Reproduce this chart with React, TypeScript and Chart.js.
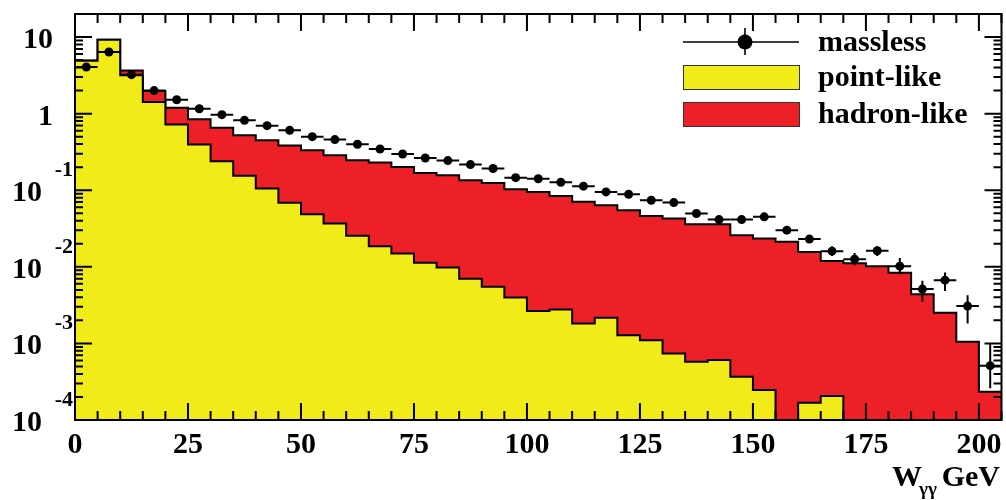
import React, { useEffect, useRef } from "react";
import { Chart, registerables } from "chart.js";

Chart.register(...registerables);

// W_gg spectrum in 5 GeV bins, from 0 to 205 GeV
const binEdges = [
  0, 5, 10, 15, 20, 25, 30, 35, 40, 45, 50, 55, 60, 65, 70, 75, 80, 85, 90, 95,
  100, 105, 110, 115, 120, 125, 130, 135, 140, 145, 150, 155, 160, 165, 170,
  175, 180, 185, 190, 195, 200, 205,
];

// point-like component (yellow), per bin
const pointLike = [
  4.9, 9.2, 3.16, 1.42, 0.72, 0.395, 0.239, 0.154, 0.105, 0.0684, 0.0487,
  0.0367, 0.0254, 0.0186, 0.0149, 0.0113, 0.0098, 0.00697, 0.00548, 0.00398,
  0.00264, 0.00278, 0.00182, 0.00216, 0.00128, 0.0011, 0.00074, 0.000577,
  0.000607, 0.000367, 0.000246, 0, 0.000168, 0.000206, 0, 0, 0, 0, 0, 0, 0,
];

// hadron-like component (red), stacked on top of the point-like one
const hadronLike = [
  0.05, 0.05, 0.51, 0.55, 0.47, 0.448, 0.417, 0.367, 0.344, 0.315, 0.283,
  0.249, 0.221, 0.211, 0.186, 0.157, 0.147, 0.128, 0.1185, 0.099, 0.0924,
  0.0815, 0.0687, 0.0615, 0.0535, 0.0451, 0.042, 0.0354, 0.0354, 0.0255,
  0.0232, 0.0212, 0.0155, 0.0117, 0.0111, 0.0102, 0.00834, 0.0044, 0.00251,
  0.00105, 0.000234,
];

// massless prediction with its uncertainties
const massless = [
  4.06, 6.37, 3.23, 2.0, 1.52, 1.16, 0.97, 0.818, 0.697, 0.605, 0.501, 0.458,
  0.398, 0.346, 0.297, 0.264, 0.244, 0.216, 0.192, 0.146, 0.141, 0.127, 0.113,
  0.095, 0.0887, 0.074, 0.069, 0.0497, 0.0414, 0.0414, 0.0449, 0.0301, 0.023,
  0.016, 0.0126, 0.0162, 0.0102, 0.00512, 0.0067, 0.00307, 0.000512,
];
const masslessErrDown = [
  0, 0, 0, 0, 0, 0, 0, 0, 0, 0, 0, 0, 0, 0, 0, 0, 0, 0, 0, 0, 0, 0, 0, 0, 0,
  0, 0, 0, 0, 0, 0, 0.0018, 0.002, 0.0022, 0.0021, 0.0024, 0.0022, 0.00163,
  0.00188, 0.00125, 0.000253,
];
const masslessErrUp = [
  0, 0, 0, 0, 0, 0, 0, 0, 0, 0, 0, 0, 0, 0, 0, 0, 0, 0, 0, 0, 0, 0, 0, 0, 0,
  0, 0, 0, 0, 0, 0, 0.0019, 0.0022, 0.0026, 0.0025, 0.0024, 0.0028, 0.00144,
  0.00173, 0.0012, 0.00049,
];

const xMajorTicks = [0, 25, 50, 75, 100, 125, 150, 175, 200];
const xMinorStep = 5;
const yDecades = [-4, -3, -2, -1, 0, 1];

const X_MIN = 0;
const X_MAX = 205;
const Y_MIN = 1e-4;
const Y_MAX = 20;

const YELLOW = "rgb(241,235,26)";
const RED = "rgb(237,31,39)";
const FONT = '"Liberation Serif", "Times New Roman", serif';

const LABEL_MASSLESS = "massless";
const LABEL_POINT = "point-like";
const LABEL_HADRON = "hadron-like";

// Histogram outline as step points on the bin edges; empty bins sit on the axis floor
function histogramPoints(values: number[]) {
  const pts = values.map((v, i) => ({ x: binEdges[i], y: Math.max(v, Y_MIN) }));
  pts.push({
    x: binEdges[values.length],
    y: Math.max(values[values.length - 1], Y_MIN),
  });
  return pts;
}

const stackedTotal = pointLike.map((p, i) => p + hadronLike[i]);

const errorBarPlugin = {
  id: "errorBars",
  afterDatasetsDraw(chart: any) {
    const { ctx, chartArea, scales } = chart;
    const x = scales.x;
    const y = scales.y;
    ctx.save();
    ctx.beginPath();
    ctx.rect(
      chartArea.left,
      chartArea.top,
      chartArea.right - chartArea.left,
      chartArea.bottom - chartArea.top
    );
    ctx.clip();
    ctx.strokeStyle = "#000";
    ctx.lineWidth = 2;
    massless.forEach((v, i) => {
      const px0 = x.getPixelForValue(binEdges[i]);
      const px1 = x.getPixelForValue(binEdges[i + 1]);
      const cx = (px0 + px1) / 2;
      const cy = y.getPixelForValue(v);
      ctx.beginPath();
      ctx.moveTo(px0, cy);
      ctx.lineTo(px1, cy);
      if (masslessErrDown[i] > 0 || masslessErrUp[i] > 0) {
        const lo = Math.max(v - masslessErrDown[i], Y_MIN);
        const hi = v + masslessErrUp[i];
        ctx.moveTo(cx, y.getPixelForValue(lo));
        ctx.lineTo(cx, y.getPixelForValue(hi));
      }
      ctx.stroke();
    });
    ctx.restore();
  },
};

const framePlugin = {
  id: "rootFrame",
  afterDraw(chart: any) {
    const { ctx, chartArea, scales } = chart;
    const x = scales.x;
    const y = scales.y;
    const { left, right, top, bottom } = chartArea;
    ctx.save();
    ctx.strokeStyle = "#000";
    ctx.lineWidth = 2;
    ctx.strokeRect(left, top, right - left, bottom - top);

    // x ticks, bottom and top, pointing inward
    ctx.beginPath();
    for (let v = X_MIN; v <= X_MAX; v += xMinorStep) {
      const px = x.getPixelForValue(v);
      const len = xMajorTicks.includes(v) ? 17 : 9;
      ctx.moveTo(px, bottom);
      ctx.lineTo(px, bottom - len);
      ctx.moveTo(px, top);
      ctx.lineTo(px, top + len);
    }
    // y ticks, left and right
    for (const d of yDecades) {
      for (let m = 1; m <= 9; m++) {
        const val = m * Math.pow(10, d);
        if (val > Y_MAX * 1.0001) break;
        const py = y.getPixelForValue(val);
        const len = m === 1 ? 17 : 8;
        ctx.moveTo(left, py);
        ctx.lineTo(left + len, py);
        ctx.moveTo(right, py);
        ctx.lineTo(right - len, py);
      }
    }
    ctx.stroke();

    ctx.fillStyle = "#000";
    // x tick labels
    ctx.font = `bold 30px ${FONT}`;
    ctx.textAlign = "center";
    ctx.textBaseline = "alphabetic";
    for (const v of xMajorTicks) {
      ctx.fillText(String(v), x.getPixelForValue(v), 453);
    }

    // y tick labels: 10, 1, and 10 with a raised exponent
    for (const d of yDecades) {
      const py = y.getPixelForValue(Math.pow(10, d));
      if (d === 1 || d === 0) {
        ctx.font = `bold 30px ${FONT}`;
        ctx.textAlign = "right";
        ctx.fillText(d === 1 ? "10" : "1", 53, py + 11);
      } else {
        ctx.font = `bold 30px ${FONT}`;
        ctx.textAlign = "right";
        ctx.fillText("10", 42, py + 11);
        ctx.font = `bold 22px ${FONT}`;
        ctx.fillText(String(d), 73, py - 14);
      }
    }

    // axis title W_gg GeV
    ctx.textAlign = "left";
    ctx.font = `bold 30px ${FONT}`;
    const wx = 892;
    ctx.fillText("W", wx, 486);
    const wWidth = ctx.measureText("W").width;
    ctx.font = `bold 19px ${FONT}`;
    ctx.fillText("\u03b3\u03b3", wx + wWidth - 3, 495);
    ctx.font = `bold 30px ${FONT}`;
    ctx.textAlign = "right";
    ctx.fillText("GeV", 1000, 486);
    ctx.restore();
  },
};

const legendPlugin = {
  id: "rootLegend",
  afterDraw(chart: any) {
    const { ctx } = chart;
    const x0 = 683;
    const w = 116;
    const textX = 818;
    ctx.save();
    // massless: line + marker + vertical bar
    ctx.strokeStyle = "#000";
    ctx.lineWidth = 1.6;
    ctx.beginPath();
    ctx.moveTo(x0, 42);
    ctx.lineTo(x0 + w, 42);
    ctx.moveTo(x0 + w / 2 + 4, 28);
    ctx.lineTo(x0 + w / 2 + 4, 55);
    ctx.stroke();
    ctx.fillStyle = "#000";
    ctx.beginPath();
    ctx.arc(x0 + w / 2 + 4, 42, 7.5, 0, Math.PI * 2);
    ctx.fill();

    // filled boxes
    ctx.lineWidth = 1;
    ctx.strokeStyle = "#333";
    ctx.fillStyle = YELLOW;
    ctx.fillRect(x0, 65, w, 24);
    ctx.strokeRect(x0 + 0.5, 65.5, w, 24);
    ctx.fillStyle = RED;
    ctx.fillRect(x0, 102, w, 24);
    ctx.strokeRect(x0 + 0.5, 102.5, w, 24);

    ctx.fillStyle = "#000";
    ctx.font = `bold 30px ${FONT}`;
    ctx.textAlign = "left";
    ctx.textBaseline = "alphabetic";
    ctx.fillText(LABEL_MASSLESS, textX, 51);
    ctx.fillText(LABEL_POINT, textX, 86);
    ctx.fillText(LABEL_HADRON, textX, 123);
    ctx.restore();
  },
};

export default function App() {
  const canvasRef = useRef<HTMLCanvasElement | null>(null);

  useEffect(() => {
    const canvas = canvasRef.current;
    if (!canvas) return;
    const centers = massless.map((v, i) => ({
      x: (binEdges[i] + binEdges[i + 1]) / 2,
      y: v,
    }));
    const chart = new Chart(canvas, {
      type: "line",
      data: {
        datasets: [
          {
            label: LABEL_MASSLESS,
            data: centers,
            showLine: false,
            pointRadius: 4.5,
            pointHoverRadius: 4.5,
            pointBackgroundColor: "#000",
            pointBorderColor: "#000",
            pointBorderWidth: 0,
            order: 0,
          },
          {
            label: LABEL_POINT,
            data: histogramPoints(pointLike),
            stepped: "before",
            borderColor: "#000",
            borderWidth: 2,
            backgroundColor: YELLOW,
            fill: "start",
            pointRadius: 0,
            order: 1,
          },
          {
            label: LABEL_HADRON,
            data: histogramPoints(stackedTotal),
            stepped: "before",
            borderColor: "#000",
            borderWidth: 2,
            backgroundColor: RED,
            fill: "start",
            pointRadius: 0,
            order: 2,
          },
        ],
      },
      options: {
        animation: false,
        responsive: false,
        devicePixelRatio: 1,
        layout: { padding: { left: 75, right: 3, top: 14, bottom: 80 } },
        plugins: {
          legend: { display: false },
          tooltip: { enabled: false },
        },
        scales: {
          x: { type: "linear", min: X_MIN, max: X_MAX, display: false },
          y: { type: "logarithmic", min: Y_MIN, max: Y_MAX, display: false },
        },
      },
      plugins: [errorBarPlugin, framePlugin, legendPlugin],
    });
    return () => chart.destroy();
  }, []);

  return (
    <div
      style={{
        position: "fixed",
        left: 0,
        top: 0,
        width: 1006,
        height: 500,
        background: "#fff",
      }}
    >
      <canvas ref={canvasRef} width={1006} height={500} style={{ display: "block" }} />
    </div>
  );
}
